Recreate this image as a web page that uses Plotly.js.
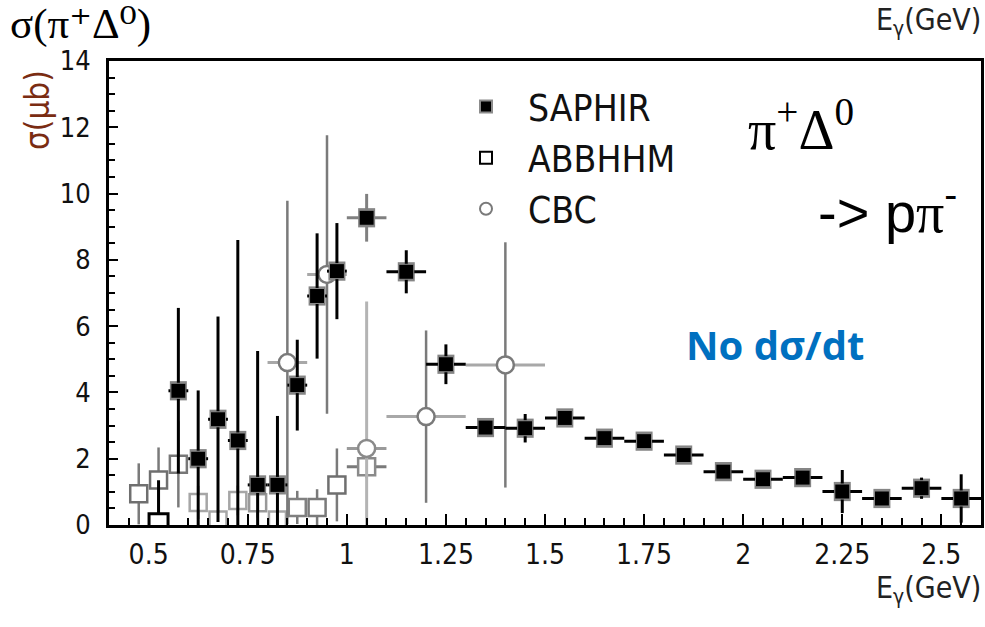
<!DOCTYPE html>
<html>
<head>
<meta charset="utf-8">
<script src="https://cdn.plot.ly/plotly-3.0.1.min.js"></script>
<style>
  html, body { margin: 0; padding: 0; background: #fff; }
  #chart { width: 985px; height: 627px; }
</style>
</head>
<body>
<div id="chart"></div>
<script>
// Photoproduction cross section gamma p -> pi+ Delta0, three experiments.

// SAPHIR (filled squares)
const saphirE     = [0.575, 0.625, 0.675, 0.725, 0.775, 0.825, 0.875, 0.925, 0.975, 1.05,
                     1.15, 1.25, 1.35, 1.45, 1.55, 1.65, 1.75, 1.85, 1.95, 2.05,
                     2.15, 2.25, 2.35, 2.45, 2.55];
const saphirSigma = [4.05, 2.00, 3.19, 2.55, 1.21, 1.21, 4.22, 6.91, 7.66, 9.27,
                     7.64, 4.85, 2.94, 2.92, 3.23, 2.62, 2.53, 2.11, 1.61, 1.38,
                     1.43, 1.01, 0.80, 1.11, 0.80];
const saphirErr   = [2.50, 2.06, 3.10, 6.05, 4.04, 2.08, 1.37, 1.89, 1.45, 0.72,
                     0.65, 0.60, 0.20, 0.43, 0.15, 0.15, 0.12, 0.12, 0.12, 0.10,
                     0.10, 0.65, 0.10, 0.32, 0.73];
const saphirBinHalf = [0.025, 0.025, 0.025, 0.025, 0.025, 0.025, 0.025, 0.025, 0.025, 0.05,
                       0.05, 0.05, 0.05, 0.05, 0.05, 0.05, 0.05, 0.05, 0.05, 0.05,
                       0.05, 0.05, 0.05, 0.05, 0.05];
// systematic band drawn behind each SAPHIR point
const saphirSys = 0.29;
// index of the SAPHIR point whose bars are drawn in grey
const saphirGreyIdx = 9;

// ABBHHM (open squares)
const abbE     = [0.475, 0.525, 0.575, 0.625, 0.675, 0.725, 0.775, 0.825, 0.875, 0.925, 0.975, 1.05];
const abbSigma = [0.94, 1.36, 1.83, 0.68, 0.15, 0.74, 0.67, 0.15, 0.53, 0.53, 1.21, 1.76];
const abbErr   = [0.92, 0.98, 1.30, 0.50, 0.30, 0.45, 0.45, 0.30, 0.50, 0.55, 1.10, 0.35];
const abbBinHalf = [0, 0, 0, 0, 0, 0, 0, 0, 0, 0, 0, 0.05];
const abbEdge  = ['#6f6f6f', '#6f6f6f', '#777777', '#a6a6a6', '#a6a6a6', '#a6a6a6', '#999999',
                  '#a6a6a6', '#808080', '#7a7a7a', '#6f6f6f', '#8a8a8a'];
// ABBHHM point at threshold
const abbLowE     = [0.525];
const abbLowSigma = [0.05];
const abbLowErr   = [1.30];

// CBC (open circles)
const cbcE       = [0.85, 0.95, 1.05, 1.20, 1.40];
const cbcSigma   = [4.90, 7.56, 2.31, 3.27, 4.83];
const cbcErr     = [4.88, 4.20, 4.43, 2.60, 3.70];
const cbcBinHalf = [0.05, 0.05, 0.05, 0.10, 0.10];

// axis ticks
const xTickVals = [0.5, 0.75, 1, 1.25, 1.5, 1.75, 2, 2.25, 2.5];
const xTickText = ['0.5', '0.75', '1', '1.25', '1.5', '1.75', '2', '2.25', '2.5'];
const yTickVals = [0, 2, 4, 6, 8, 10, 12, 14];
const yTickText = ['0', '2', '4', '6', '8', '10', '12', '14'];

const narrow = 'Liberation Sans Narrow, Arial Narrow, DejaVu Sans Condensed, Liberation Sans, Arial, sans-serif';
const serif = 'Liberation Serif, Times New Roman, DejaVu Serif, serif';

const pick = (arr, keep) => arr.filter((_, i) => keep(i));
const isGrey = i => i === saphirGreyIdx;
const notGrey = i => i !== saphirGreyIdx;

const traces = [
  {
    name: 'ABBHHM', x: abbE, y: abbSigma, type: 'scatter', mode: 'markers',
    showlegend: false, hoverinfo: 'x+y',
    marker: { symbol: 'square', size: 17, color: '#ffffff', line: { color: abbEdge, width: 2.5 } },
    error_y: { type: 'data', array: abbErr, color: '#7a7a7a', thickness: 2.5, width: 0 },
    error_x: { type: 'data', array: abbBinHalf, color: '#7a7a7a', thickness: 3, width: 0 }
  },
  {
    name: 'ABBHHM', x: abbLowE, y: abbLowSigma, type: 'scatter', mode: 'markers',
    legendrank: 2, hoverinfo: 'x+y',
    marker: { symbol: 'square', size: 19, color: '#ffffff', line: { color: '#000000', width: 3 } },
    error_y: { type: 'data', array: abbLowErr, color: '#000000', thickness: 3, width: 0 }
  },
  {
    name: 'CBC', x: pick(cbcE, i => i !== 2), y: pick(cbcSigma, i => i !== 2), type: 'scatter', mode: 'markers',
    legendrank: 3, hoverinfo: 'x+y',
    marker: { symbol: 'circle', size: 17, color: '#ffffff', line: { color: '#7a7a7a', width: 2.5 } },
    error_y: { type: 'data', array: pick(cbcErr, i => i !== 2), color: '#7a7a7a', thickness: 2.5, width: 0 },
    error_x: { type: 'data', array: pick(cbcBinHalf, i => i !== 2), color: '#a8a8a8', thickness: 3, width: 0 }
  },
  {
    name: 'CBC', x: pick(cbcE, i => i === 2), y: pick(cbcSigma, i => i === 2), type: 'scatter', mode: 'markers',
    showlegend: false, hoverinfo: 'x+y',
    marker: { symbol: 'circle', size: 17, color: '#ffffff', line: { color: '#8a8a8a', width: 2.5 } },
    error_y: { type: 'data', array: pick(cbcErr, i => i === 2), color: '#b4b4b4', thickness: 3, width: 0 },
    error_x: { type: 'data', array: pick(cbcBinHalf, i => i === 2), color: '#9a9a9a', thickness: 3, width: 0 }
  },
  {
    name: 'SAPHIR sys', x: saphirE, y: saphirSigma, type: 'scatter', mode: 'markers',
    showlegend: false, hoverinfo: 'skip',
    marker: { size: 1, color: 'rgba(0,0,0,0)' },
    error_y: { type: 'constant', value: saphirSys, color: '#858585', thickness: 17, width: 0 }
  },
  {
    name: 'SAPHIR', x: pick(saphirE, isGrey), y: pick(saphirSigma, isGrey), type: 'scatter', mode: 'markers',
    showlegend: false, hoverinfo: 'x+y',
    marker: { symbol: 'square', size: 15, color: '#000000', line: { color: '#8c8c8c', width: 1 } },
    error_y: { type: 'data', array: pick(saphirErr, isGrey), color: '#808080', thickness: 3, width: 0 },
    error_x: { type: 'data', array: pick(saphirBinHalf, isGrey), color: '#808080', thickness: 3, width: 0 }
  },
  {
    name: 'SAPHIR', x: pick(saphirE, notGrey), y: pick(saphirSigma, notGrey), type: 'scatter', mode: 'markers',
    legendrank: 1, hoverinfo: 'x+y',
    marker: { symbol: 'square', size: 15, color: '#000000', line: { color: '#8c8c8c', width: 1 } },
    error_y: { type: 'data', array: pick(saphirErr, notGrey), color: '#000000', thickness: 3, width: 0 },
    error_x: { type: 'data', array: pick(saphirBinHalf, notGrey), color: '#000000', thickness: 3, width: 0 }
  }
];

// plot area in pixels: x 109..981, y 61..525
const L = 109, T = 61, W = 872, H = 464;
const px = v => (v - L) / W;
const py = v => (T + H - v) / H;

const layout = {
  width: 985, height: 627,
  margin: { l: L, r: 985 - L - W, t: T, b: 627 - T - H, pad: 0 },
  paper_bgcolor: '#ffffff', plot_bgcolor: '#ffffff',
  showlegend: true,
  legend: {
    x: px(444), y: py(76), xanchor: 'left', yanchor: 'top',
    bgcolor: 'rgba(0,0,0,0)', borderwidth: 0,
    font: { family: narrow, size: 37, color: '#111111' },
    itemwidth: 74, itemsizing: 'constant', traceorder: 'normal', tracegroupgap: 0
  },
  xaxis: {
    range: [0.4, 2.6], tickmode: 'array', tickvals: xTickVals, ticktext: xTickText,
    ticks: 'inside', ticklen: 11, tickwidth: 2, tickcolor: '#000',
    showline: true, linewidth: 3, linecolor: '#000', mirror: true,
    showgrid: false, zeroline: false, ticklabelstandoff: 2,
    tickfont: { family: narrow, size: 28, color: '#111111' },
    minor: { tickmode: 'linear', tick0: 0.4, dtick: 0.05, ticks: 'inside', ticklen: 7, tickwidth: 2, tickcolor: '#000', showgrid: false }
  },
  yaxis: {
    range: [0, 14], tickmode: 'array', tickvals: yTickVals, ticktext: yTickText,
    ticks: 'inside', ticklen: 9, tickwidth: 2, tickcolor: '#000',
    showline: true, linewidth: 3, linecolor: '#000', mirror: true,
    showgrid: false, zeroline: false, ticklabelstandoff: 10,
    tickfont: { family: narrow, size: 27, color: '#111111' },
    minor: { tickmode: 'linear', tick0: 0, dtick: 0.5, ticks: 'inside', ticklen: 6, tickwidth: 2, tickcolor: '#000', showgrid: false }
  },
  annotations: [
    { text: 'σ(π⁺Δ⁰)', xref: 'paper', yref: 'paper', x: px(8), y: py(-2),
      xanchor: 'left', yanchor: 'top', showarrow: false,
      font: { family: serif, size: 43, color: '#000' } },
    { text: 'σ(μb)', xref: 'paper', yref: 'paper', x: px(37), y: py(110), textangle: -90,
      xanchor: 'center', yanchor: 'middle', showarrow: false,
      font: { family: narrow, size: 33, color: '#7a2c12' } },
    { text: 'E<sub>γ</sub>(GeV)', xref: 'paper', yref: 'paper', x: px(983), y: py(0),
      xanchor: 'right', yanchor: 'top', showarrow: false,
      font: { family: narrow, size: 30, color: '#222' } },
    { text: 'E<sub>γ</sub>(GeV)', xref: 'paper', yref: 'paper', x: px(983), y: py(568),
      xanchor: 'right', yanchor: 'top', showarrow: false,
      font: { family: narrow, size: 30, color: '#222' } },
    { text: 'π<sup>+</sup>Δ<sup>0</sup>', xref: 'paper', yref: 'paper', x: px(746), y: py(125),
      xanchor: 'left', yanchor: 'middle', showarrow: false,
      font: { family: serif, size: 56, color: '#000' } },
    { text: '-&gt; p<span style="font-family:Liberation Serif, serif">π</span><sup>-</sup>', xref: 'paper', yref: 'paper',
      x: px(816), y: py(208), xanchor: 'left', yanchor: 'middle', showarrow: false,
      font: { family: 'Liberation Sans, Arial, sans-serif', size: 56, color: '#000' } },
    { text: '<b>No dσ/dt</b>', xref: 'paper', yref: 'paper', x: px(684), y: py(344),
      xanchor: 'left', yanchor: 'middle', showarrow: false,
      font: { family: 'Open Sans, Noto Sans, sans-serif', size: 40, color: '#0070c0' } }
  ]
};

Plotly.newPlot('chart', traces, layout, { displayModeBar: false, staticPlot: true });
</script>
</body>
</html>
